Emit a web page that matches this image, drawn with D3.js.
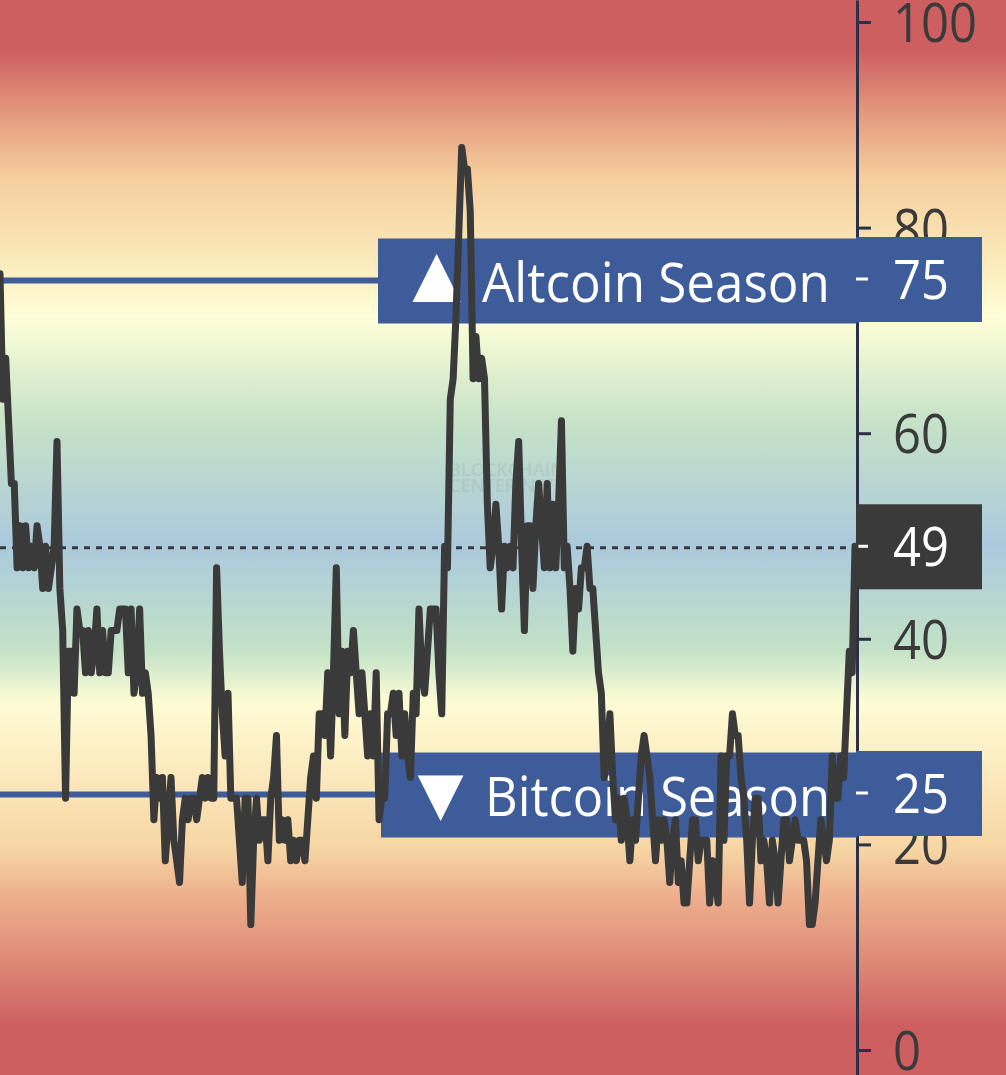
<!DOCTYPE html>
<html>
<head>
<meta charset="utf-8">
<script src="https://cdn.jsdelivr.net/npm/d3@7"></script>
<style>
  html, body { margin: 0; padding: 0; background: #fff; }
  svg { display: block; }
  text { font-family: "Open Sans", sans-serif; }
</style>
</head>
<body>
<div id="chart"></div>
<script>
"use strict";

// altcoin season index (steps of 1/49)
var seasonIndex = [
  75.5, 63.3, 67.3, 61.2, 55.1, 55.1, 46.9, 51, 46.9, 51,
  46.9, 49, 46.9, 51, 49, 44.9, 49, 44.9, 46.9, 49,
  59.2, 44.9, 40.8, 24.5, 38.8, 38.8, 34.7, 42.9, 40.8, 40.8,
  36.7, 40.8, 36.7, 38.8, 42.9, 36.7, 40.8, 36.7, 36.7, 40.8,
  40.8, 40.8, 42.9, 42.9, 42.9, 36.7, 42.9, 34.7, 36.7, 42.9,
  34.7, 36.7, 34.7, 30.6, 22.4, 26.5, 24.5, 26.5, 18.4, 22.4,
  26.5, 20.4, 18.4, 16.3, 22.4, 24.5, 22.4, 24.5, 24.5, 22.4,
  24.5, 26.5, 24.5, 26.5, 24.5, 24.5, 46.9, 38.8, 32.7, 28.6,
  34.7, 24.5, 24.5, 24.5, 20.4, 16.3, 24.5, 24.5, 12.2, 20.4,
  24.5, 20.4, 22.4, 22.4, 18.4, 24.5, 26.5, 30.6, 20.4, 22.4,
  20.4, 22.4, 18.4, 20.4, 18.4, 20.4, 20.4, 18.4, 22.4, 26.5,
  28.6, 24.5, 32.7, 32.7, 30.6, 36.7, 28.6, 36.7, 46.9, 32.7,
  38.8, 30.6, 38.8, 36.7, 40.8, 36.7, 32.7, 36.7, 32.7, 28.6,
  32.7, 28.6, 36.7, 22.4, 24.5, 24.5, 32.7, 32.7, 34.7, 30.6,
  34.7, 28.6, 32.7, 28.6, 26.5, 34.7, 32.7, 42.9, 36.7, 34.7,
  38.8, 42.9, 42.9, 42.9, 36.7, 32.7, 49, 46.9, 63.3, 65.3,
  71.4, 79.6, 87.8, 85.7, 85.7, 81.6, 65.3, 69.4, 65.3, 67.3,
  65.3, 53.1, 46.9, 49, 53.1, 49, 42.9, 49, 46.9, 49,
  46.9, 55.1, 59.2, 49, 40.8, 51, 51, 44.9, 51, 55.1,
  51, 46.9, 55.1, 46.9, 53.1, 46.9, 53.1, 61.2, 46.9, 49,
  44.9, 38.8, 44.9, 42.9, 46.9, 46.9, 49, 44.9, 44.9, 40.8,
  36.7, 34.7, 26.5, 28.6, 32.7, 26.5, 22.4, 24.5, 20.4, 24.5,
  22.4, 18.4, 22.4, 20.4, 24.5, 28.6, 30.6, 28.6, 26.5, 22.4,
  18.4, 22.4, 20.4, 22.4, 20.4, 16.3, 20.4, 22.4, 16.3, 18.4,
  14.3, 14.3, 18.4, 22.4, 22.4, 18.4, 20.4, 20.4, 20.4, 14.3,
  18.4, 16.3, 14.3, 28.6, 20.4, 28.6, 28.6, 32.7, 30.6, 30.6,
  26.5, 24.5, 20.4, 14.3, 20.4, 24.5, 24.5, 18.4, 20.4, 18.4,
  14.3, 20.4, 18.4, 14.3, 18.4, 22.4, 22.4, 18.4, 20.4, 22.4,
  20.4, 20.4, 20.4, 18.4, 12.2, 12.2, 14.3, 18.4, 22.4, 20.4,
  18.4, 20.4, 28.6, 24.5, 24.5, 28.6, 26.5, 32.7, 38.8, 36.7,
  49
];

var axisTicks = [0, 20, 40, 60, 80, 100];
var altcoinLevel = 75;
var bitcoinLevel = 25;
var currentLevel = 49;

// background band colours by index value
var bandValues = [102.2, 97.1, 92.4, 85.1, 76.8, 71.3, 61, 49.1, 38.9, 33.8, 25.3, 19.5, 15.1, 8.8, 2.4, -2.5];
var bandColors = ["#cd5f61", "#cd5f61", "#df8d78", "#f5cd9c", "#fbeabb", "#feffd8", "#c6e2c8", "#abc9dc",
  "#c3e2c8", "#fefcd5", "#fbe5b8", "#f6d5a3", "#eeb08e", "#de8b78", "#cd5f61", "#cd5f61"];

var width = 1006;
var height = 1075;
var axisX = 857;
var chartRight = 855;
var labelRight = 982;
var digitWidth = 28; // digits in the picture are narrower than Open Sans
var fontSize = 54;
var lineOffset = 1.5; // the level lines sit a touch under their ticks

var svg = d3.select('#chart')
            .append('svg')
            .attr('width', width)
            .attr('height', height);

var scaleY = d3.scaleLinear()
               .domain([100, 0])
               .range([22, 1050]);
var scaleX = d3.scaleLinear()
               .domain([0, seasonIndex.length - 1])
               .range([0, chartRight]);

var gradient = svg.append('defs')
                  .append('linearGradient')
                  .attr('id', 'bands')
                  .attr('gradientUnits', 'userSpaceOnUse')
                  .attr('x1', 0)
                  .attr('x2', 0)
                  .attr('y1', 0)
                  .attr('y2', height);

bandValues.forEach(function(v, i) {
  gradient.append('stop')
    .attr('offset', Math.max(0, Math.min(1, scaleY(v) / height)))
    .attr('stop-color', bandColors[i]);
});

svg.append('rect')
   .attr('width', width)
   .attr('height', height)
   .attr('fill', 'url(#bands)');

// watermark
var mark = svg.append('g')
              .attr('fill', '#28323c')
              .attr('opacity', 0.07)
              .attr('font-size', 18)
              .attr('font-weight', 600);
mark.append('text').attr('x', 449).attr('y', 476).text('BLOCKCHAIN');
mark.append('text').attr('x', 449).attr('y', 492).text('CENTER.NET');

// axis runs past the image on both ends
var axisScale = d3.scaleLinear()
                  .domain([scaleY.invert(0), scaleY.invert(height)])
                  .range([0, height]);
var yAxis = d3.axisRight(axisScale)
              .tickValues(axisTicks)
              .tickSizeInner(14)
              .tickSizeOuter(0)
              .tickPadding(22);

var gAxis = svg.append('g')
               .attr('transform', 'translate(' + axisX + ',0)')
               .call(yAxis);
gAxis.select('.domain').attr('stroke', '#2c3147').attr('stroke-width', 3);
gAxis.selectAll('.tick line').attr('stroke', '#2c3147').attr('stroke-width', 3);
gAxis.selectAll('.tick text')
     .attr('font-size', fontSize)
     .attr('font-family', '"Open Sans", sans-serif')
     .attr('fill', '#3a3a3a')
     .attr('dy', '0.36em')
     .attr('textLength', function(d) { return String(d).length * digitWidth; })
     .attr('lengthAdjust', 'spacingAndGlyphs');

// level lines
[altcoinLevel, bitcoinLevel].forEach(function(level) {
  svg.append('line')
     .attr('x1', 0)
     .attr('x2', 390)
     .attr('y1', scaleY(level) + lineOffset)
     .attr('y2', scaleY(level) + lineOffset)
     .attr('stroke', '#3d5c99')
     .attr('stroke-width', 6);
});

svg.append('line')
   .attr('x1', 0)
   .attr('x2', axisX)
   .attr('y1', scaleY(currentLevel) + lineOffset)
   .attr('y2', scaleY(currentLevel) + lineOffset)
   .attr('stroke', '#3a3a3a')
   .attr('stroke-width', 3)
   .attr('stroke-dasharray', '6 6');

// value labels on the axis, and the named pills left of it
function axisLabel(level, fill) {
  var y = scaleY(level);
  svg.append('rect')
     .attr('x', axisX - 1)
     .attr('y', y - 42)
     .attr('width', labelRight - axisX + 1)
     .attr('height', 85)
     .attr('fill', fill);
  svg.append('line')
     .attr('x1', axisX - 1)
     .attr('x2', axisX + 11)
     .attr('y1', y)
     .attr('y2', y)
     .attr('stroke', '#fff')
     .attr('stroke-width', 3);
  svg.append('text')
     .attr('x', 893)
     .attr('y', y)
     .attr('dy', '0.37em')
     .attr('font-size', fontSize)
     .attr('fill', '#fff')
     .attr('textLength', String(level).length * digitWidth)
     .attr('lengthAdjust', 'spacingAndGlyphs')
     .text(level);
}

function seasonPill(opts) {
  var y = scaleY(opts.level) + lineOffset;
  svg.append('rect')
     .attr('x', opts.left)
     .attr('y', y - 42)
     .attr('width', axisX - opts.left)
     .attr('height', 85)
     .attr('fill', '#3d5c99');
  svg.append('text')
     .attr('x', opts.symbolX)
     .attr('y', y + opts.symbolDy)
     .attr('font-size', opts.symbolSize)
     .attr('font-family', '"DejaVu Sans", sans-serif')
     .attr('fill', '#fff')
     .text(opts.symbol);
  svg.append('text')
     .attr('x', opts.nameX)
     .attr('y', y + 21)
     .attr('font-size', fontSize)
     .attr('fill', '#fff')
     .attr('textLength', opts.nameWidth)
     .attr('lengthAdjust', 'spacingAndGlyphs')
     .text(opts.name);
}

seasonPill({ level: altcoinLevel, left: 378, symbol: '▲', symbolX: 396, symbolDy: 21, symbolSize: 82,
             name: 'Altcoin Season', nameX: 482, nameWidth: 348 });
seasonPill({ level: bitcoinLevel, left: 381, symbol: '▼', symbolX: 402, symbolDy: 25, symbolSize: 78,
             name: 'Bitcoin Season', nameX: 485, nameWidth: 345 });
axisLabel(altcoinLevel, '#3d5c99');
axisLabel(bitcoinLevel, '#3d5c99');
axisLabel(currentLevel, '#3a3a3a');

var line = d3.line()
             .x(function(d, i) { return scaleX(i); })
             .y(function(d) { return scaleY(d); });

svg.append('path')
   .attr('d', line(seasonIndex))
   .attr('fill', 'none')
   .attr('stroke', '#3a3a3a')
   .attr('stroke-width', 7)
   .attr('stroke-linejoin', 'round')
   .attr('stroke-linecap', 'round');
</script>
</body>
</html>
